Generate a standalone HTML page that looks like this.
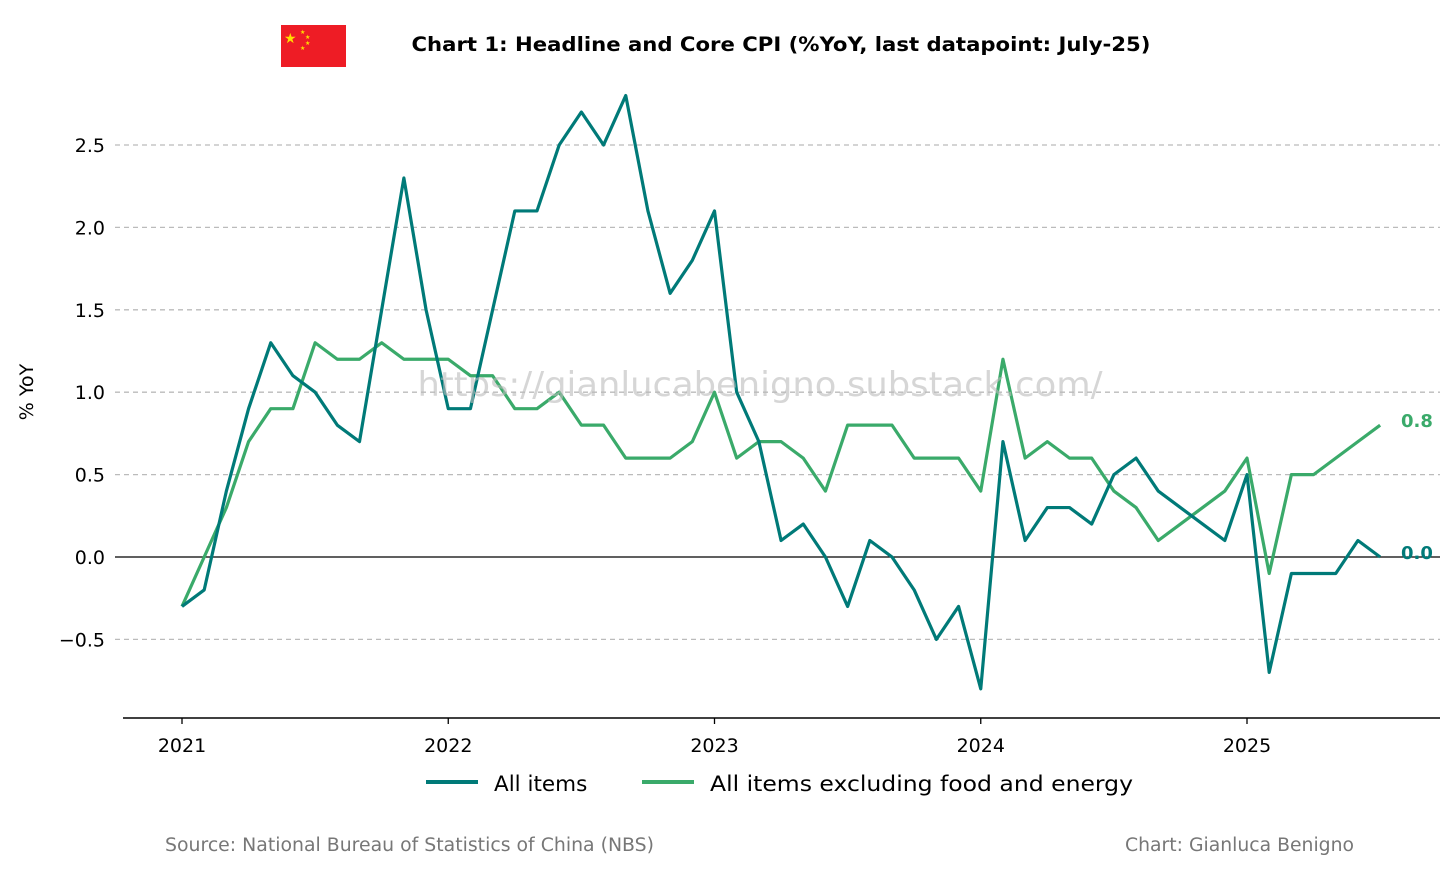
<!DOCTYPE html>
<html><head><meta charset="utf-8"><style>
body{margin:0;background:#fff;}
svg text{font-family:"DejaVu Sans","Liberation Sans",sans-serif;}
</style></head><body>
<svg id="chart" width="1456" height="872" viewBox="0 0 1456 872">
<g>
<rect x="281" y="25" width="65" height="42" fill="#ee1c25"/>
<text x="284" y="43" font-size="14" fill="#ffde00">★</text>
<text x="300" y="34" font-size="6" fill="#ffde00">★</text>
<text x="305" y="39" font-size="6" fill="#ffde00">★</text>
<text x="305" y="45" font-size="6" fill="#ffde00">★</text>
<text x="300" y="50" font-size="6" fill="#ffde00">★</text>
</g>
<text x="781" y="51" font-size="19.5" font-weight="bold" text-anchor="middle" textLength="739" lengthAdjust="spacingAndGlyphs">Chart 1: Headline and Core CPI (%YoY, last datapoint: July-25)</text>
<text transform="translate(33,392) rotate(-90)" font-size="19" text-anchor="middle">% YoY</text>
<g id="grid"></g><g id="series"></g>
<line x1="123" y1="718" x2="1440" y2="718" stroke="#000" stroke-width="1.5"/>
<text x="760" y="396" font-size="34" fill="#bbb" fill-opacity="0.6" text-anchor="middle" textLength="685" lengthAdjust="spacingAndGlyphs">https://gianlucabenigno.substack.com/</text>
<g>
<line x1="426" y1="782" x2="478" y2="782" stroke="#007a78" stroke-width="4"/>
<text x="494" y="791" font-size="21.5">All items</text>
<line x1="642" y1="782" x2="694" y2="782" stroke="#3aaa6a" stroke-width="4"/>
<text x="710" y="791" font-size="21.5" textLength="423" lengthAdjust="spacingAndGlyphs">All items excluding food and energy</text>
</g>
<text x="165" y="851" font-size="18.5" fill="#777" textLength="489" lengthAdjust="spacingAndGlyphs">Source: National Bureau of Statistics of China (NBS)</text>
<text x="1354" y="851" font-size="18.5" fill="#777" text-anchor="end" textLength="229" lengthAdjust="spacingAndGlyphs">Chart: Gianluca Benigno</text>
</svg>
<script>
const headline=[-0.3,-0.2,0.4,0.9,1.3,1.1,1.0,0.8,0.7,1.5,2.3,1.5,
0.9,0.9,1.5,2.1,2.1,2.5,2.7,2.5,2.8,2.1,1.6,1.8,
2.1,1.0,0.7,0.1,0.2,0.0,-0.3,0.1,0.0,-0.2,-0.5,-0.3,
-0.8,0.7,0.1,0.3,0.3,0.2,0.5,0.6,0.4,0.3,0.2,0.1,
0.5,-0.7,-0.1,-0.1,-0.1,0.1,0.0];
const core=[-0.3,0.0,0.3,0.7,0.9,0.9,1.3,1.2,1.2,1.3,1.2,1.2,
1.2,1.1,1.1,0.9,0.9,1.0,0.8,0.8,0.6,0.6,0.6,0.7,
1.0,0.6,0.7,0.7,0.6,0.4,0.8,0.8,0.8,0.6,0.6,0.6,
0.4,1.2,0.6,0.7,0.6,0.6,0.4,0.3,0.1,0.2,0.3,0.4,
0.6,-0.1,0.5,0.5,0.6,0.7,0.8];
const yTicks=[-0.5,0,0.5,1,1.5,2,2.5];
const yTickLabels=["\u22120.5","0.0","0.5","1.0","1.5","2.0","2.5"];
const xYears=[2021,2022,2023,2024,2025];
const NS="http://www.w3.org/2000/svg";
const X=m=>182+m*(1247-182)/48;
const Y=v=>557-v*164.8;
const grid=document.getElementById('grid'),ser=document.getElementById('series');
function mk(tag,attrs,parent){const e=document.createElementNS(NS,tag);for(const k in attrs)e.setAttribute(k,attrs[k]);parent.appendChild(e);return e;}
yTicks.forEach((t,i)=>{
 const y=Y(t);
 const l=mk('line',{x1:115,x2:1440,y1:y,y2:y,stroke:t===0?'#000':'#bbb','stroke-width':t===0?1.2:1.3,'stroke-dasharray':t===0?'':'5,4'},grid);
 
 
 const tx=mk('text',{x:105,y:y+7,'font-size':19,'text-anchor':'end'},grid);tx.textContent=yTickLabels[i];
 
 
});
xYears.forEach((yr,i)=>{
 const x=X(i*12);
 mk('line',{x1:x,x2:x,y1:718,y2:724,stroke:'#000','stroke-width':1.3},grid);
 const tx=mk('text',{x:x,y:752,'font-size':19,'text-anchor':'middle'},grid);tx.textContent=yr;
 
 
});
function line(data,color,name){
 const p=mk('polyline',{points:data.map((v,i)=>X(i)+','+Y(v)).join(' '),fill:'none',stroke:color,'stroke-width':3.2,'stroke-linejoin':'round'},ser);
 
 
 const last=data[data.length-1];
 const t=mk('text',{x:1401,y:Y(last)-5+7,'font-size':18,'font-weight':'bold',fill:color},ser);
 t.textContent=last.toFixed(1);
 
 
}
line(core,'#3aaa6a','core-cpi-line');
line(headline,'#007a78','headline-cpi-line');
</script>
</body></html>
